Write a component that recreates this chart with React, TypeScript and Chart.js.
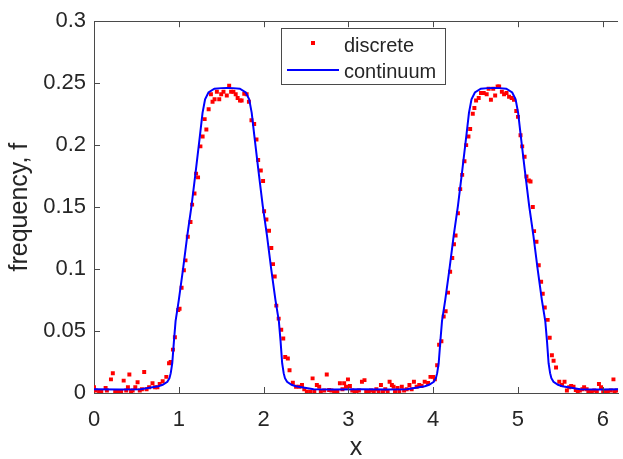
import React, { useEffect, useRef } from 'react';
import { Chart, registerables } from 'chart.js';

Chart.register(...registerables);

// ---- axis ticks ----
const xTicks = [0, 1, 2, 3, 4, 5, 6];
const xTickLabels = ['0', '1', '2', '3', '4', '5', '6'];
const yTicks = [0, 0.05, 0.1, 0.15, 0.2, 0.25, 0.3];
const yTickLabels = ['0', '0.05', '0.1', '0.15', '0.2', '0.25', '0.3'];
const X_MIN = 0;
const X_MAX = 6.18;
const Y_MIN = 0;
const Y_MAX = 0.3;

// ---- continuum curve ----
const continuumX = [
  0, 0.3, 0.55, 0.69, 0.76, 0.81, 0.865, 0.89, 0.905, 0.923, 0.943, 0.962, 1.0, 1.05, 1.1, 1.15, 1.2, 1.25,
  1.28, 1.31, 1.35, 1.42, 1.5, 1.571, 1.64, 1.72, 1.79, 1.83, 1.86, 1.89, 1.94, 1.99, 2.04, 2.09, 2.14, 2.18,
  2.2, 2.219, 2.237, 2.252, 2.277, 2.33, 2.38, 2.45, 2.59, 2.84, 3.142,
  3.442, 3.692, 3.832, 3.902, 3.952, 4.007, 4.032, 4.047, 4.065, 4.085, 4.104, 4.142, 4.192, 4.242, 4.292,
  4.342, 4.392, 4.422, 4.452, 4.492, 4.562, 4.642, 4.712, 4.782, 4.862, 4.932, 4.972, 5.002, 5.032, 5.082,
  5.132, 5.182, 5.232, 5.282, 5.322, 5.342, 5.361, 5.379, 5.394, 5.419, 5.472, 5.522, 5.592, 5.732, 5.982, 6.283,
];
const continuumY = [
  0.003, 0.0028, 0.003, 0.0046, 0.0055, 0.0066, 0.009, 0.012, 0.016, 0.024, 0.042, 0.058, 0.075, 0.1, 0.127,
  0.151, 0.179, 0.208, 0.226, 0.237, 0.2425, 0.2455, 0.246, 0.2462, 0.246, 0.2455, 0.2425, 0.237, 0.226, 0.208,
  0.179, 0.151, 0.127, 0.1, 0.075, 0.058, 0.042, 0.024, 0.016, 0.012, 0.009, 0.0066, 0.0055, 0.0046, 0.003,
  0.0028, 0.003,
  0.0028, 0.003, 0.0046, 0.0055, 0.0066, 0.009, 0.012, 0.016, 0.024, 0.042, 0.058, 0.075, 0.1, 0.127,
  0.151, 0.179, 0.208, 0.226, 0.237, 0.2425, 0.2455, 0.246, 0.2462, 0.246, 0.2455, 0.2425, 0.237, 0.226, 0.208,
  0.179, 0.151, 0.127, 0.1, 0.075, 0.058, 0.042, 0.024, 0.016, 0.012, 0.009, 0.0066, 0.0055, 0.0046, 0.003,
  0.0028, 0.003,
];

// ---- discrete points ----
const discreteX = [
  0.0, 0.02, 0.06, 0.086, 0.137, 0.152, 0.2, 0.222, 0.25, 0.29, 0.32, 0.35, 0.38, 0.4, 0.417, 0.437, 0.456,
  0.487, 0.514, 0.54, 0.565, 0.592, 0.62, 0.65, 0.69, 0.72, 0.748, 0.775, 0.81, 0.853, 0.885, 0.904, 0.931,
  0.954, 0.993, 1.009, 1.033, 1.06, 1.079, 1.106, 1.138, 1.157, 1.185, 1.204, 1.227, 1.255, 1.281, 1.305,
  1.325, 1.352, 1.379, 1.398, 1.422, 1.449, 1.477, 1.5, 1.527, 1.566, 1.594, 1.617, 1.644, 1.671, 1.694,
  1.722, 1.741, 1.772, 1.8, 1.827, 1.857, 1.889, 1.916, 1.936, 1.967, 1.994, 2.006, 2.033, 2.064, 2.091,
  2.111, 2.131, 2.15, 2.178, 2.208, 2.232, 2.255, 2.286, 2.306, 2.345, 2.383, 2.423, 2.453, 2.48, 2.51, 2.55,
  2.578, 2.598, 2.628, 2.656, 2.675, 2.715, 2.745, 2.773, 2.8, 2.832, 2.87, 2.9, 2.93, 2.95, 2.972, 2.995,
  3.018, 3.046, 3.073, 3.096, 3.124, 3.16, 3.19, 3.21, 3.24, 3.267, 3.3, 3.33, 3.357, 3.384, 3.408, 3.435,
  3.463, 3.486, 3.513, 3.533, 3.55, 3.58, 3.6, 3.63, 3.657, 3.688, 3.72, 3.746, 3.773, 3.805, 3.836, 3.863,
  3.9, 3.94, 3.968, 4.0, 4.02, 4.047, 4.07, 4.097, 4.124, 4.147, 4.175, 4.2, 4.225, 4.245, 4.264, 4.292,
  4.319, 4.342, 4.369, 4.389, 4.416, 4.436, 4.467, 4.486, 4.506, 4.537, 4.564, 4.596, 4.631, 4.654, 4.681,
  4.708, 4.731, 4.76, 4.778, 4.81, 4.836, 4.865, 4.895, 4.926, 4.953, 4.98, 5.0, 5.03, 5.05, 5.078, 5.1,
  5.128, 5.148, 5.175, 5.19, 5.218, 5.245, 5.273, 5.292, 5.316, 5.35, 5.374, 5.4, 5.42, 5.449, 5.487, 5.519,
  5.549, 5.577, 5.604, 5.627, 5.655, 5.682, 5.705, 5.73, 5.76, 5.78, 5.81, 5.83, 5.87, 5.9, 5.93, 5.955,
  5.98, 6.005, 6.03, 6.06, 6.095, 6.126, 6.14, 6.165,
];
const discreteY = [
  0.0046, 0.002, 0.001, 0.001, 0.004, 0.002, 0.011, 0.016, 0.001, 0.001, 0.001, 0.01, 0.002, 0.0046, 0.015,
  0.001, 0.002, 0.0046, 0.0086, 0.002, 0.003, 0.017, 0.003, 0.0046, 0.0078, 0.0046, 0.0046, 0.0072, 0.0095,
  0.013, 0.024, 0.025, 0.035, 0.045, 0.067, 0.068, 0.085, 0.099, 0.107, 0.126, 0.138, 0.152, 0.161, 0.177,
  0.174, 0.199, 0.207, 0.221, 0.2126, 0.229, 0.241, 0.235, 0.237, 0.243, 0.237, 0.241, 0.243, 0.24, 0.248,
  0.243, 0.243, 0.241, 0.238, 0.236, 0.236, 0.2414, 0.241, 0.235, 0.22, 0.217, 0.2046, 0.188, 0.1795, 0.171,
  0.1466, 0.14, 0.131, 0.117, 0.104, 0.094, 0.0705, 0.06, 0.051, 0.044, 0.029, 0.0278, 0.0184, 0.0083, 0.005,
  0.005, 0.0064, 0.003, 0.001, 0.001, 0.0118, 0.001, 0.0064, 0.005, 0.001, 0.002, 0.015, 0.0024, 0.002, 0.001,
  0.001, 0.0078, 0.003, 0.0078, 0.005, 0.011, 0.0056, 0.002, 0.001, 0.001, 0.002, 0.009, 0.0104, 0.001, 0.001,
  0.002, 0.001, 0.003, 0.001, 0.0064, 0.001, 0.003, 0.001, 0.009, 0.0064, 0.005, 0.001, 0.004, 0.001, 0.005,
  0.002, 0.003, 0.0064, 0.003, 0.009, 0.005, 0.0064, 0.0056, 0.009, 0.008, 0.013, 0.013, 0.011, 0.0224,
  0.039, 0.0417, 0.0617, 0.066, 0.081, 0.0978, 0.109, 0.12, 0.127, 0.145, 0.1645, 0.176, 0.187, 0.2, 0.207,
  0.213, 0.2254, 0.23, 0.236, 0.238, 0.242, 0.242, 0.241, 0.2455, 0.2366, 0.2455, 0.24, 0.2474, 0.2474, 0.243,
  0.241, 0.242, 0.239, 0.238, 0.2366, 0.2276, 0.2228, 0.208, 0.199, 0.1907, 0.1747, 0.1715, 0.1707, 0.15,
  0.1306, 0.122, 0.103, 0.0897, 0.08, 0.069, 0.059, 0.0446, 0.0304, 0.026, 0.0206, 0.009, 0.0064, 0.009,
  0.002, 0.0046, 0.0056, 0.005, 0.0024, 0.001, 0.002, 0.003, 0.0046, 0.003, 0.001, 0.001, 0.002, 0.001, 0.0072,
  0.0046, 0.001, 0.001, 0.001, 0.002, 0.011, 0.001, 0.002,
];

const FONT = '"Liberation Sans", Arial, Helvetica, sans-serif';
const TEXT_COLOR = '#262626';
const AXIS_COLOR = '#4a4a4a';
const RED = '#ff0000';
const BLUE = '#0000ff';

export default function App() {
  const ref = useRef<HTMLCanvasElement>(null);

  useEffect(() => {
    const canvas = ref.current;
    if (!canvas) return;

    const inwardTicks = {
      id: 'inwardTicks',
      afterDatasetsDraw(chart: any) {
        const { ctx, chartArea } = chart;
        const xs = chart.scales.x;
        const ys = chart.scales.y;
        const len = 6;
        ctx.save();
        ctx.strokeStyle = AXIS_COLOR;
        ctx.lineWidth = 1;
        ctx.beginPath();
        // top frame line
        ctx.moveTo(chartArea.left, Math.round(chartArea.top) + 0.5);
        ctx.lineTo(chartArea.right, Math.round(chartArea.top) + 0.5);
        xTicks.forEach((v) => {
          const px = Math.round(xs.getPixelForValue(v)) + 0.5;
          if (v === X_MIN) return;
          ctx.moveTo(px, chartArea.bottom);
          ctx.lineTo(px, chartArea.bottom - len);
          ctx.moveTo(px, chartArea.top);
          ctx.lineTo(px, chartArea.top + len);
        });
        yTicks.forEach((v) => {
          const py = Math.round(ys.getPixelForValue(v)) + 0.5;
          if (v === Y_MIN || v === Y_MAX) return;
          ctx.moveTo(chartArea.left, py);
          ctx.lineTo(chartArea.left + len, py);
        });
        ctx.stroke();
        ctx.restore();
      },
    };

    const legendBox = {
      id: 'legendBox',
      afterDraw(chart: any) {
        const { ctx } = chart;
        const ds = chart.data.datasets;
        const discrete = ds.find((d: any) => d.label === 'discrete');
        const continuum = ds.find((d: any) => d.label === 'continuum');
        const bx = 281.5, by = 28.5, bw = 164, bh = 56;
        ctx.save();
        ctx.fillStyle = '#ffffff';
        ctx.fillRect(bx, by, bw, bh);
        ctx.strokeStyle = AXIS_COLOR;
        ctx.lineWidth = 1;
        ctx.strokeRect(bx, by, bw, bh);
        // discrete marker
        ctx.fillStyle = discrete.backgroundColor;
        ctx.fillRect(311, 41, 4, 4);
        // continuum line
        ctx.strokeStyle = continuum.borderColor;
        ctx.lineWidth = continuum.borderWidth;
        ctx.beginPath();
        ctx.moveTo(287, 70);
        ctx.lineTo(339, 70);
        ctx.stroke();
        ctx.fillStyle = TEXT_COLOR;
        ctx.font = `20px ${FONT}`;
        ctx.textBaseline = 'alphabetic';
        ctx.textAlign = 'left';
        ctx.fillText(discrete.label, 344, 52);
        ctx.fillText(continuum.label, 344, 78);
        ctx.restore();
      },
    };

    const chart = new Chart(canvas, {
      type: 'scatter',
      data: {
        datasets: [
          {
            type: 'line',
            label: 'continuum',
            data: continuumX.map((x, i) => ({ x, y: continuumY[i] })),
            borderColor: BLUE,
            backgroundColor: BLUE,
            borderWidth: 2,
            pointRadius: 0,
            tension: 0,
            fill: false,
            order: 0,
          } as any,
          {
            type: 'scatter',
            label: 'discrete',
            data: discreteX.map((x, i) => ({ x, y: discreteY[i] })),
            backgroundColor: RED,
            borderColor: RED,
            borderWidth: 0,
            pointStyle: 'rect',
            pointRadius: 2.8,
            order: 1,
          } as any,
        ],
      },
      options: {
        animation: false,
        responsive: false,
        devicePixelRatio: 1,
        layout: { padding: { left: 0, right: 0, top: 19, bottom: 0 } },
        plugins: { legend: { display: false }, tooltip: { enabled: false } },
        scales: {
          x: {
            type: 'linear',
            min: X_MIN,
            max: X_MAX,
            afterBuildTicks: (s: any) => {
              s.ticks = xTicks.map((v) => ({ value: v }));
            },
            afterFit: (s: any) => {
              s.height = 66;
            },
            grid: { display: false, drawTicks: false },
            border: { display: true, color: AXIS_COLOR, width: 1 },
            ticks: {
              padding: 14,
              color: TEXT_COLOR,
              font: { family: FONT, size: 22 },
              maxRotation: 0,
              autoSkip: false,
              callback: (v: any) => xTickLabels[xTicks.indexOf(Number(v))] ?? '',
            },
            title: {
              display: true,
              text: 'x',
              color: TEXT_COLOR,
              font: { family: FONT, size: 25 },
              padding: { top: 0, bottom: -4 },
            },
          },
          y: {
            type: 'linear',
            min: Y_MIN,
            max: Y_MAX,
            afterBuildTicks: (s: any) => {
              s.ticks = yTicks.map((v) => ({ value: v }));
            },
            afterFit: (s: any) => {
              s.width = 94;
            },
            grid: { display: false, drawTicks: false },
            border: { display: true, color: AXIS_COLOR, width: 1 },
            ticks: {
              padding: 8,
              color: TEXT_COLOR,
              font: { family: FONT, size: 22 },
              autoSkip: false,
              callback: (v: any) => {
                const i = yTicks.findIndex((t) => Math.abs(t - Number(v)) < 1e-9);
                return i >= 0 ? yTickLabels[i] : '';
              },
            },
            title: {
              display: true,
              text: 'frequency, f',
              color: TEXT_COLOR,
              font: { family: FONT, size: 25 },
              padding: { top: 5, bottom: 0 },
            },
          },
        },
      } as any,
      plugins: [inwardTicks, legendBox],
    });

    return () => chart.destroy();
  }, []);

  return (
    <div style={{ position: 'fixed', left: 0, top: 0, width: 623, height: 459, background: '#ffffff' }}>
      <canvas ref={ref} width={623} height={459} style={{ width: 623, height: 459, display: 'block' }} />
    </div>
  );
}
